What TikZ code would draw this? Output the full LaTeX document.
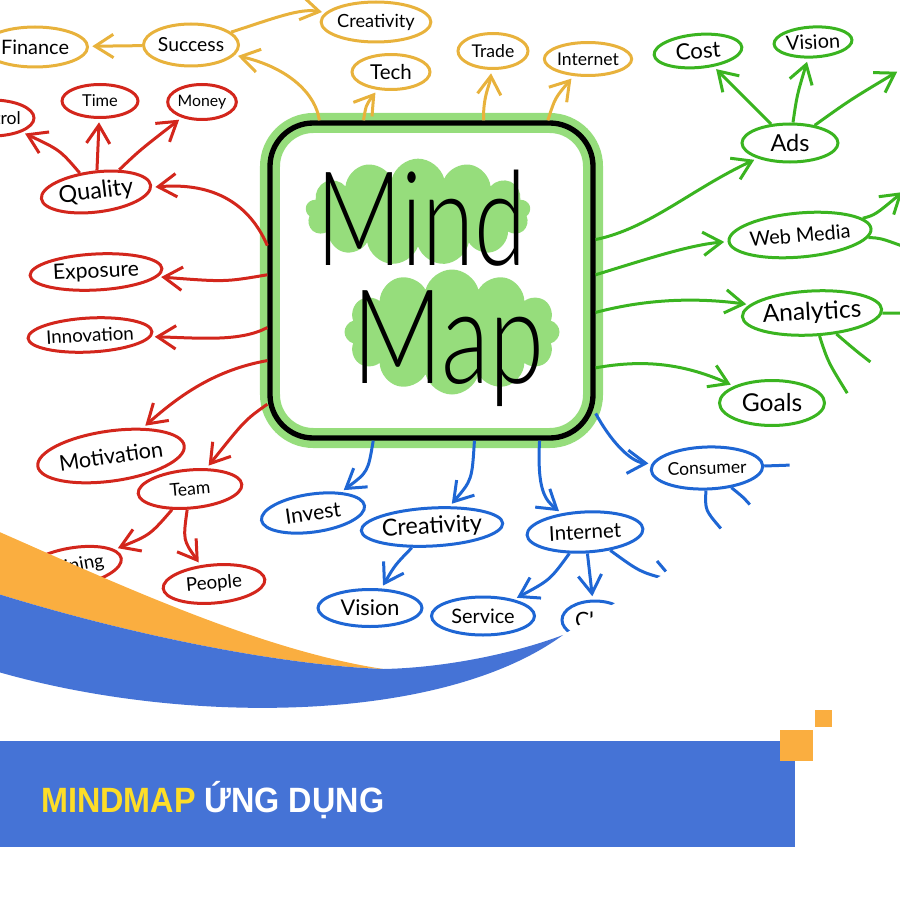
\documentclass[tikz,border=0pt]{standalone}
\usepackage{fontspec}
\setmainfont{Lato}
\newfontfamily\bigfont{Lato Light}
\newfontfamily\titlefont{Liberation Sans}
\usetikzlibrary{arrows.meta,shapes.geometric,shapes.symbols,positioning}
\definecolor{orng}{RGB}{232,178,60}
\definecolor{rd}{RGB}{211,38,28}
\definecolor{grn}{RGB}{58,180,32}
\definecolor{blu}{RGB}{30,102,212}
\definecolor{halo}{RGB}{150,221,124}
\definecolor{swOrange}{RGB}{250,174,64}
\definecolor{swBlue}{RGB}{69,115,214}
\definecolor{ttlYellow}{RGB}{253,221,40}
\tikzset{->, % every branch is an arrow
>={Straight Barb[length=5.5mm,width=7mm]}, % open heads like a pen
line cap=round, line join=round,
every node/.style={font=\fontsize{16}{16}\selectfont}, % size of the labels
}

\begin{document}
\begin{tikzpicture}[x=0.03cm, y=-0.03cm,
	BUB/.style args = {#1/#2/#3/#4}{ellipse, draw=#1, line width=0.09cm, inner sep=0pt,
		minimum width=#2*0.03cm, minimum height=#3*0.03cm, font=\fontsize{#4}{#4}\selectfont},
	br/.style = {draw=#1, line width=0.09cm, shorten >=1mm}]
\useasboundingbox (0,0) rectangle (900,900);
% the box in the middle
\node[draw=black, line width=0.16cm, rounded corners=1.3cm, minimum width=9.69cm, minimum height=9.45cm,
	preaction={draw=halo, line width=0.6cm}] (mm) at (431.5,280.5) {};
\node[cloud, cloud puffs=13, aspect=2.1, fill=halo, minimum width=6.75cm, minimum height=3.2cm] (b1) at (418,212) {};
\node[cloud, cloud puffs=12, aspect=1.7, fill=halo, minimum width=6.45cm, minimum height=3.75cm] (b2) at (452,332) {};
\node[font=\bigfont\fontsize{112}{112}\selectfont, anchor=base west, inner sep=0pt] (mind) at (316,265) {\scalebox{0.72}[1]{Mind}};
\node[font=\bigfont\fontsize{112}{112}\selectfont, anchor=base west, inner sep=0pt] (map) at (352,383) {\scalebox{0.76}[1]{Map}};

% orange
\node[BUB=orng/105/40/17] (fin) at (35,47) {Finance};
\node[BUB=orng/95/42/16.5] (suc) at (191,45) {Success};
\node[BUB=orng/92/40/15.5] (cre) at (376,22) {Creativity};
\node[BUB=orng/78/35/17.5] (tec) at (391,72) {Tech};
\node[BUB=orng/70/35/15] (trd) at (493,51) {Trade};
\node[BUB=orng/78/33/15] (ino) at (588,59) {Internet};
% red
\node[BUB=rd/84/36/15] (ctl) at (-8,118) {Control};
\node[BUB=rd/76/33/14] (tim) at (100,101) {Time};
\node[BUB=rd/68/35/13.5] (mon) at (202,102) {Money};
\node[BUB=rd/110/40/20, rotate=7] (qua) at (96,192) {Quality};
\node[BUB=rd/132/36/18, rotate=3] (exp) at (96,272) {Exposure};
\node[BUB=rd/108/34/16, rotate=3] (inn) at (90,335) {Innovation};
\node[BUB=rd/124/50/18.5, rotate=8] (mot) at (111,456) {Motivation};
\node[BUB=rd/104/38/15, rotate=5] (tea) at (190,489) {Team};
\node[BUB=rd/100/38/16, rotate=10] (trn) at (72,567) {Training};
\node[BUB=rd/102/38/16, rotate=5] (peo) at (214,584) {People};
% green
\node[BUB=grn/88/33/19, rotate=5] (cst) at (698,51) {Cost};
\node[BUB=grn/78/30/17, rotate=3] (vsg) at (813,42) {Vision};
\node[BUB=grn/96/38/20] (ads) at (790,143) {Ads};
\node[BUB=grn/112/44/17, rotate=5] (web) at (800,235) {Web Media};
\node[BUB=grn/125/44/21, rotate=3] (ana) at (812,313) {Analytics};
\node[BUB=grn/105/45/21] (gol) at (772,403) {Goals};
% blue
\node[BUB=blu/104/38/18, rotate=8] (inv) at (313,513) {Invest};
\node[BUB=blu/127/38/20, rotate=3] (crb) at (432,527) {Creativity};
\node[BUB=blu/116/40/17.5, rotate=3] (inb) at (585,532) {Internet};
\node[BUB=blu/102/42/15, rotate=2] (con) at (707,468) {Consumer};
\node[BUB=blu/104/37/18.5] (vsb) at (370,608) {Vision};
\node[BUB=blu/103/38/17] (srv) at (483,616) {Service};
\node[BUB=blu/66/38/18] (cli) at (595,620) {\makebox[1.2cm][l]{Cl}};

% loose ends
\coordinate (ad1) at (900,70);
\coordinate (wm1) at (905,190);
\coordinate (wm2) at (905,247);
\coordinate (an1) at (905,313);
\coordinate (an2) at (849,396);
\coordinate (an3) at (873,364);
\coordinate (ib1) at (670,580);
\coordinate (ib2) at (657,561);
\coordinate (ib3) at (668,574);
\coordinate (cn1) at (793,465);
\coordinate (cn2) at (723,531);
\coordinate (cn3) at (752,507);

\draw[br=orng] (suc) -- (fin);
\draw[br=orng] (mm.125) .. controls (316,95) and (290,68) .. (suc);
\draw[br=orng] (suc) .. controls (275,18) and (300,8) .. (cre);
\draw[br=orng] (mm.113.3) .. controls (366,105) .. (tec);
\draw[br=orng] (mm.72.9) .. controls (483,95) and (490,85) .. (trd);
\draw[br=orng] (mm.54.2) .. controls (555,98) .. (ino);

\draw[br=rd] (qua) .. controls (60,150) .. (ctl);
\draw[br=rd] (qua) -- (tim);
\draw[br=rd] (qua) .. controls (140,150) .. (mon);
\draw[br=rd] (mm.168.8) .. controls (250,205) and (215,182) .. (qua);
\draw[br=rd] (mm.178.8) .. controls (225,282) .. (exp);
\draw[br=rd] (mm.196.1) .. controls (240,342) and (200,338) .. (inn);
\draw[br=rd] (mm.206.2) .. controls (215,370) and (180,395) .. (mot);
\draw[br=rd] (mm.217.6) .. controls (245,420) .. (tea);
\draw[br=rd] (tea) .. controls (150,535) .. (trn);
\draw[br=rd] (tea) .. controls (183,540) .. (peo);

\draw[br=grn] (mm.14.7) .. controls (650,228) and (690,190) .. (ads);
\draw[br=grn] (mm.2) .. controls (650,258) and (690,245) .. (web);
\draw[br=grn] (mm.-11) .. controls (650,298) and (700,298) .. (ana);
\draw[br=grn] (mm.-28.4) .. controls (640,360) and (680,362) .. (gol);
\draw[br=grn] (ads) .. controls (752,105) .. (cst);
\draw[br=grn] (ads) .. controls (797,95) .. (vsg);
\draw[br=grn] (ads) .. controls (850,100) .. (ad1);
\draw[br=grn] (web) .. controls (875,215) .. (wm1);
\draw[br=grn, -] (web) .. controls (880,238) .. (wm2);
\draw[br=grn, -] (ana) -- (an1);
\draw[br=grn, -] (ana) .. controls (828,362) .. (an2);
\draw[br=grn, -] (ana) .. controls (855,350) .. (an3);

\draw[br=blu] (mm.250.5) .. controls (368,472) .. (inv);
\draw[br=blu] (mm.285.4) .. controls (472,480) .. (crb);
\draw[br=blu] (mm.304.6) .. controls (537,490) and (545,500) .. (inb);
\draw[br=blu] (mm.321.3) .. controls (610,440) and (630,462) .. (con);
\draw[br=blu] (crb) .. controls (395,565) .. (vsb);
\draw[br=blu] (inb) .. controls (550,580) .. (srv);
\draw[br=blu] (inb) -- (cli);
\draw[br=blu, -] (inb) .. controls (640,572) .. (ib1);
\draw[br=blu, -] (ib2) -- (ib3);
\draw[br=blu, -] (con) -- (cn1);
\draw[br=blu, -] (con) .. controls (705,510) .. (cn2);
\draw[br=blu, -] (con) .. controls (743,497) .. (cn3);

% swoosh and banner
\fill[white] (563,635) .. controls (620,600) and (700,550) .. (905,440) -- (905,905) -- (-5,905) -- (-5,672)
	.. controls (180,725) and (440,725) .. (563,635) -- cycle;
\fill[swOrange] (-5,530) .. controls (120,585) and (260,650) .. (383,669) .. controls (280,665) and (130,635) .. (-5,593) -- cycle;
\fill[swBlue] (-5,593) .. controls (130,635) and (280,665) .. (383,669) .. controls (440,668) and (510,655) .. (563,635)
	.. controls (440,725) and (180,725) .. (-5,671) -- cycle;
\fill[swBlue] (0,741) rectangle (795,847);
\fill[swOrange] (780,730) rectangle (813,761);
\fill[swOrange] (815,710) rectangle (832,727);
\node[anchor=base west, inner sep=0pt, font=\titlefont\bfseries\fontsize{30}{30}\selectfont] (ttl) at (41,812)
	{\scalebox{0.92}[1]{\textcolor{ttlYellow}{MINDMAP} \textcolor{white}{ỨNG DỤNG}}};
\end{tikzpicture}
\end{document}
